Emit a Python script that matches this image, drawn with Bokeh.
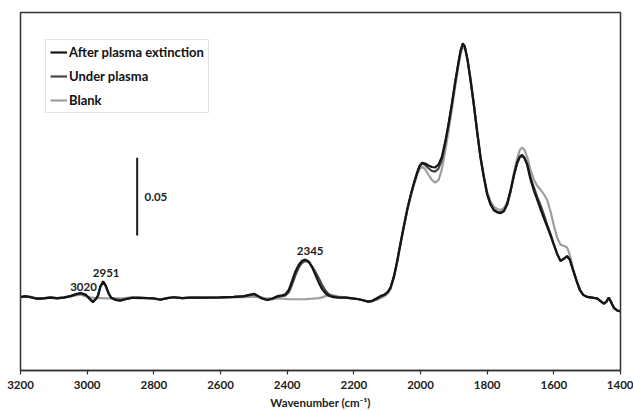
from bokeh.plotting import figure
from bokeh.models import Range1d, FixedTicker, Legend, LegendItem
from bokeh.embed import file_html
from bokeh.resources import INLINE
from bokeh.core.properties import value

# ---------------- data ----------------
wavenumber = [
    3200, 3185, 3170, 3150, 3130, 3110, 3090, 3070, 3050, 3035,
    3020, 3005, 2992, 2983, 2975, 2968, 2960, 2952, 2944, 2936,
    2928, 2915, 2900, 2885, 2865, 2845, 2820, 2800, 2780, 2760,
    2740, 2715, 2690, 2650, 2600, 2560, 2530, 2510, 2500, 2488,
    2475, 2460, 2445, 2430, 2415, 2405, 2395, 2385, 2375, 2365,
    2355, 2345, 2335, 2325, 2315, 2305, 2295, 2285, 2275, 2262,
    2245, 2225, 2205, 2185, 2170, 2157, 2145, 2130, 2118, 2108,
    2098, 2090, 2080, 2070, 2060, 2050, 2040, 2030, 2020, 2010,
    2002, 1995, 1986, 1976, 1966, 1956, 1946, 1936, 1926, 1916,
    1906, 1896, 1886, 1879, 1873, 1867, 1859, 1850, 1840, 1830,
    1820, 1810, 1800, 1790, 1780, 1770, 1760, 1750, 1740, 1730,
    1720, 1710, 1702, 1695, 1688, 1680, 1670, 1660, 1650, 1640,
    1630, 1620, 1610, 1600, 1590, 1580, 1570, 1560, 1552, 1542,
    1532, 1522, 1512, 1500, 1485, 1470, 1460, 1450, 1442, 1435,
    1428, 1420, 1410, 1400,
]

after_extinction = [
    0.0003, 0.0008, 0.0003, -0.0008, -0.0005, 0.0000, -0.0005, 0.0000, 0.0010, 0.0022,
    0.0030, 0.0020, -0.0010, -0.0030, -0.0012, 0.0010, 0.0075, 0.0105, 0.0078, 0.0030,
    0.0000, -0.0015, -0.0020, -0.0010, -0.0002, 0.0000, -0.0003, -0.0005, -0.0013, -0.0003,
    0.0003, -0.0003, 0.0000, 0.0000, 0.0002, 0.0005, 0.0010, 0.0020, 0.0025, 0.0012,
    -0.0005, -0.0015, -0.0005, 0.0010, 0.0015, 0.0022, 0.0050, 0.0110, 0.0170, 0.0212,
    0.0237, 0.0245, 0.0232, 0.0195, 0.0145, 0.0095, 0.0055, 0.0028, 0.0012, 0.0003,
    0.0000, 0.0000, -0.0005, -0.0010, -0.0018, -0.0025, -0.0020, -0.0002, 0.0012, 0.0020,
    0.0038, 0.0065, 0.0135, 0.0235, 0.0350, 0.0460, 0.0565, 0.0655, 0.0735, 0.0805,
    0.0850, 0.0867, 0.0862, 0.0850, 0.0840, 0.0838, 0.0855, 0.0905, 0.1000, 0.1115,
    0.1245, 0.1385, 0.1515, 0.1595, 0.1635, 0.1615, 0.1530, 0.1400, 0.1240, 0.1065,
    0.0900, 0.0775, 0.0665, 0.0600, 0.0562, 0.0548, 0.0543, 0.0555, 0.0600, 0.0685,
    0.0785, 0.0870, 0.0908, 0.0917, 0.0900, 0.0855, 0.0760, 0.0690, 0.0630, 0.0570,
    0.0512, 0.0457, 0.0400, 0.0340, 0.0280, 0.0235, 0.0250, 0.0268, 0.0245, 0.0175,
    0.0110, 0.0050, 0.0018, 0.0005, 0.0000, -0.0005, -0.0022, -0.0038, -0.0025, 0.0000,
    -0.0030, -0.0065, -0.0082, -0.0088,
]

under_plasma = [
    0.0005, 0.0010, 0.0005, -0.0005, -0.0003, 0.0002, -0.0003, 0.0002, 0.0010, 0.0020,
    0.0028, 0.0018, -0.0005, -0.0025, -0.0010, 0.0012, 0.0070, 0.0100, 0.0072, 0.0028,
    0.0000, -0.0010, -0.0015, -0.0008, 0.0000, -0.0003, -0.0003, -0.0005, -0.0012, -0.0003,
    0.0003, -0.0003, 0.0000, 0.0000, 0.0002, 0.0005, 0.0008, 0.0017, 0.0020, 0.0010,
    -0.0005, -0.0015, -0.0010, 0.0005, 0.0010, 0.0015, 0.0035, 0.0085, 0.0145, 0.0195,
    0.0225, 0.0236, 0.0228, 0.0200, 0.0165, 0.0125, 0.0082, 0.0045, 0.0022, 0.0008,
    0.0002, 0.0000, -0.0005, -0.0010, -0.0018, -0.0025, -0.0022, -0.0008, 0.0008, 0.0017,
    0.0035, 0.0062, 0.0132, 0.0232, 0.0348, 0.0458, 0.0563, 0.0652, 0.0732, 0.0800,
    0.0848, 0.0862, 0.0852, 0.0832, 0.0815, 0.0810, 0.0830, 0.0885, 0.0990, 0.1110,
    0.1240, 0.1380, 0.1510, 0.1590, 0.1630, 0.1612, 0.1530, 0.1400, 0.1240, 0.1065,
    0.0900, 0.0775, 0.0665, 0.0602, 0.0565, 0.0552, 0.0548, 0.0558, 0.0598, 0.0680,
    0.0780, 0.0862, 0.0902, 0.0910, 0.0895, 0.0860, 0.0775, 0.0710, 0.0650, 0.0595,
    0.0535, 0.0470, 0.0410, 0.0345, 0.0282, 0.0238, 0.0250, 0.0266, 0.0243, 0.0175,
    0.0110, 0.0050, 0.0018, 0.0005, 0.0000, -0.0005, -0.0022, -0.0038, -0.0025, 0.0000,
    -0.0030, -0.0065, -0.0082, -0.0088,
]

blank = [
    0.0005, 0.0008, 0.0003, -0.0005, -0.0005, 0.0000, -0.0003, 0.0000, 0.0008, 0.0015,
    0.0020, 0.0010, 0.0002, 0.0000, -0.0002, -0.0003, -0.0003, -0.0003, -0.0004, -0.0005,
    -0.0005, -0.0005, -0.0005, -0.0003, 0.0003, 0.0000, -0.0002, -0.0005, -0.0010, -0.0003,
    0.0003, -0.0003, 0.0000, -0.0002, 0.0000, 0.0002, 0.0003, 0.0005, 0.0005, 0.0003,
    0.0000, -0.0005, -0.0005, -0.0005, -0.0007, -0.0008, -0.0010, -0.0010, -0.0010, -0.0010,
    -0.0010, -0.0010, -0.0008, -0.0007, -0.0005, -0.0003, 0.0002, 0.0010, 0.0018, 0.0015,
    0.0007, 0.0002, -0.0003, -0.0010, -0.0018, -0.0025, -0.0022, -0.0012, 0.0000, 0.0010,
    0.0028, 0.0055, 0.0125, 0.0225, 0.0340, 0.0450, 0.0555, 0.0645, 0.0722, 0.0790,
    0.0830, 0.0840, 0.0826, 0.0790, 0.0757, 0.0740, 0.0755, 0.0825, 0.0940, 0.1070,
    0.1210, 0.1355, 0.1490, 0.1575, 0.1610, 0.1605, 0.1530, 0.1410, 0.1250, 0.1075,
    0.0910, 0.0785, 0.0680, 0.0620, 0.0585, 0.0570, 0.0564, 0.0575, 0.0615, 0.0695,
    0.0800, 0.0895, 0.0950, 0.0966, 0.0950, 0.0905, 0.0820, 0.0760, 0.0720, 0.0695,
    0.0665, 0.0628, 0.0555, 0.0465, 0.0385, 0.0340, 0.0333, 0.0322, 0.0275, 0.0185,
    0.0112, 0.0050, 0.0018, 0.0005, 0.0000, -0.0005, -0.0022, -0.0038, -0.0025, 0.0000,
    -0.0030, -0.0065, -0.0082, -0.0088,
]

series_names = ["After plasma extinction", "Under plasma", "Blank"]
tick_values = [3200, 3000, 2800, 2600, 2400, 2200, 2000, 1800, 1600, 1400]

peak_labels = ["3020", "2951", "2345"]
peak_label_x = [3011, 2943, 2331]
peak_label_y = [0.0070, 0.0158, 0.0297]

scale_bar_x = [2850]
scale_bar_y0 = [0.040]
scale_bar_y1 = [0.090]
scale_bar_label = ["0.05"]

assert len(wavenumber) == len(after_extinction) == len(under_plasma) == len(blank)

# ---------------- figure ----------------
FONT = "Lato"
p = figure(width=633, height=411, output_backend="svg", toolbar_location=None,
           x_range=Range1d(3200, 1400), y_range=Range1d(-0.0468, 0.1833),
           min_border_left=20, min_border_right=13, min_border_top=12,
           min_border_bottom=40)
p.background_fill_color = "white"
p.border_fill_color = "white"
p.outline_line_color = "#333333"
p.outline_line_width = 1.5
p.xgrid.visible = False
p.ygrid.visible = False
p.yaxis.visible = False

xa = p.xaxis[0]
xa.ticker = FixedTicker(ticks=tick_values)
xa.axis_line_color = "#333333"
xa.axis_line_width = 1.5
xa.major_tick_line_color = "#333333"
xa.major_tick_line_width = 1.2
xa.major_tick_in = 0
xa.major_tick_out = 4
xa.minor_tick_line_color = None
xa.major_label_standoff = 6
xa.major_label_text_font = FONT
xa.major_label_text_font_style = "bold"
xa.major_label_text_font_size = "11.5px"
xa.major_label_text_color = "#222222"
xa.axis_label = "Wavenumber (cm\u207b\u00b9)"
xa.axis_label_standoff = 4
xa.axis_label_text_font = FONT
xa.axis_label_text_font_style = "bold"
xa.axis_label_text_font_size = "11.5px"
xa.axis_label_text_color = "#222222"

r_blank = p.line(wavenumber, blank, line_color="#9e9e9e", line_width=2.2)
r_under = p.line(wavenumber, under_plasma, line_color="#474747", line_width=2.2)
r_after = p.line(wavenumber, after_extinction, line_color="#151515", line_width=2.2)

# scale bar
p.segment(x0=scale_bar_x, y0=scale_bar_y0, x1=scale_bar_x, y1=scale_bar_y1,
          line_color="#1a1a1a", line_width=2)
p.text(x=[scale_bar_x[0] - 22], y=[(scale_bar_y0[0] + scale_bar_y1[0]) / 2],
       text=scale_bar_label, text_font=value(FONT), text_font_style="bold",
       text_font_size="11.5px", text_align="left", text_baseline="middle",
       text_color="#222222")

# peak labels
p.text(x=peak_label_x, y=peak_label_y, text=peak_labels, text_font=value(FONT),
       text_font_style="bold", text_font_size="11.5px", text_align="center",
       text_baseline="middle", text_color="#222222")

legend = Legend(items=[LegendItem(label=series_names[0], renderers=[r_after]),
                       LegendItem(label=series_names[1], renderers=[r_under]),
                       LegendItem(label=series_names[2], renderers=[r_blank])],
                location=(25, 257))
legend.label_text_font = FONT
legend.label_text_font_style = "bold"
legend.label_text_font_size = "13px"
legend.label_text_color = "#111111"
legend.label_height = 14
legend.glyph_height = 14
legend.glyph_width = 17
legend.label_standoff = 2
legend.spacing = 8
legend.padding = 4
legend.margin = 0
legend.border_line_color = "#c8c8c8"
legend.border_line_width = 1.5
legend.background_fill_alpha = 1.0
p.add_layout(legend)

open("out.html", "w").write(file_html(p, INLINE))
